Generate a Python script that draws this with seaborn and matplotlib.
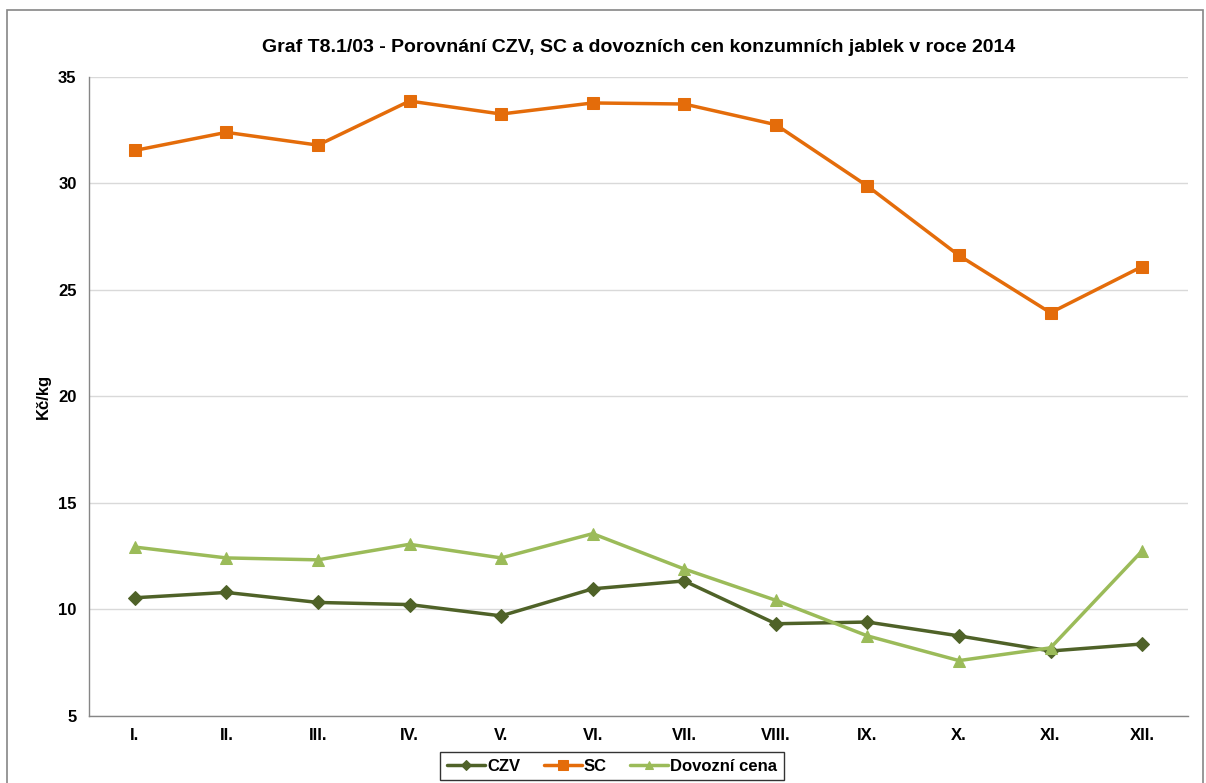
import pandas as pd
import seaborn as sns
import matplotlib.pyplot as plt
from matplotlib.patches import Rectangle
import numpy as np

months = ["I.", "II.", "III.", "IV.", "V.", "VI.", "VII.", "VIII.", "IX.", "X.", "XI.", "XII."]
czv = [10.55, 10.80, 10.33, 10.23, 9.70, 10.97, 11.34, 9.33, 9.41, 8.76, 8.05, 8.38]
sc = [31.55, 32.40, 31.80, 33.87, 33.26, 33.78, 33.73, 32.76, 29.88, 26.62, 23.93, 26.10]
dovoz = [12.93, 12.42, 12.33, 13.06, 12.42, 13.56, 11.90, 10.43, 8.76, 7.60, 8.20, 12.75]

series = {"CZV": czv, "SC": sc, "Dovozní cena": dovoz}
colors = {"CZV": "#4F6228", "SC": "#E46C0A", "Dovozní cena": "#9BBB59"}
markers = {"CZV": "D", "SC": "s", "Dovozní cena": "^"}
msizes = {"CZV": 7, "SC": 9, "Dovozní cena": 8}

sns.set_style("white")
plt.rcParams['font.family'] = ['Liberation Sans', 'DejaVu Sans']
plt.rcParams['font.weight'] = 'bold'
plt.rcParams['text.color'] = 'black'
plt.rcParams['axes.labelcolor'] = 'black'
plt.rcParams['xtick.color'] = 'black'
plt.rcParams['ytick.color'] = 'black'

fig = plt.figure(figsize=(12.06, 7.83), dpi=100)
ax = fig.add_axes([0.0738, 0.0856, 0.9112, 0.8161])

# outer chart border
fig.patches.append(Rectangle((0.0058, -0.05), 0.9917, 1.037, transform=fig.transFigure,
                             fill=False, edgecolor="#868686", linewidth=1.2))

for name, vals in series.items():
    df = pd.DataFrame({"month": months, "value": vals})
    sns.lineplot(data=df, x="month", y="value", ax=ax, sort=False, color=colors[name],
                 marker=markers[name], markersize=msizes[name], markeredgecolor=colors[name],
                 linewidth=2.5, label=name)

ax.set_xlim(-0.5, 11.5)
ax.set_ylim(5, 35)
ax.set_yticks([5, 10, 15, 20, 25, 30, 35])
ax.set_xticks(range(12))
ax.set_xticklabels(months, fontsize=12, fontweight='bold')
ax.set_xticks(np.arange(-0.5, 12, 1), minor=True)
ax.tick_params(axis='x', which='major', length=0, pad=9)
ax.tick_params(axis='x', which='minor', length=5, color="#868686", direction='out')
ax.tick_params(axis='y', length=5, color="#868686", direction='out', labelsize=12, pad=4)
for lbl in ax.get_yticklabels():
    lbl.set_fontweight('bold')

ax.grid(axis='y', color="#D9D9D9", linewidth=1)
ax.grid(axis='x', visible=False)
for s in ["top", "right"]:
    ax.spines[s].set_visible(False)
for s in ["left", "bottom"]:
    ax.spines[s].set_color("#868686")
    ax.spines[s].set_linewidth(1)

ax.set_xlabel("")
ax.set_ylabel("Kč/kg", fontsize=12, fontweight='bold', labelpad=5)
ax.set_title("Graf T8.1/03 - Porovnání CZV, SC a dovozních cen konzumních jablek v roce 2014",
             fontsize=14, fontweight='bold', pad=18)

leg = ax.legend(loc="upper center", bbox_to_anchor=(0.5075, 0.0396), bbox_transform=fig.transFigure,
                ncol=3, frameon=True, fancybox=False, fontsize=12, handlelength=2.3,
                columnspacing=1.4, handletextpad=0.1, borderpad=0.4, borderaxespad=0,
                markerscale=0.8)
leg.get_frame().set_edgecolor("black")
leg.get_frame().set_linewidth(1)
for t in leg.get_texts():
    t.set_fontweight('bold')

fig.savefig("out.png", dpi=100)
